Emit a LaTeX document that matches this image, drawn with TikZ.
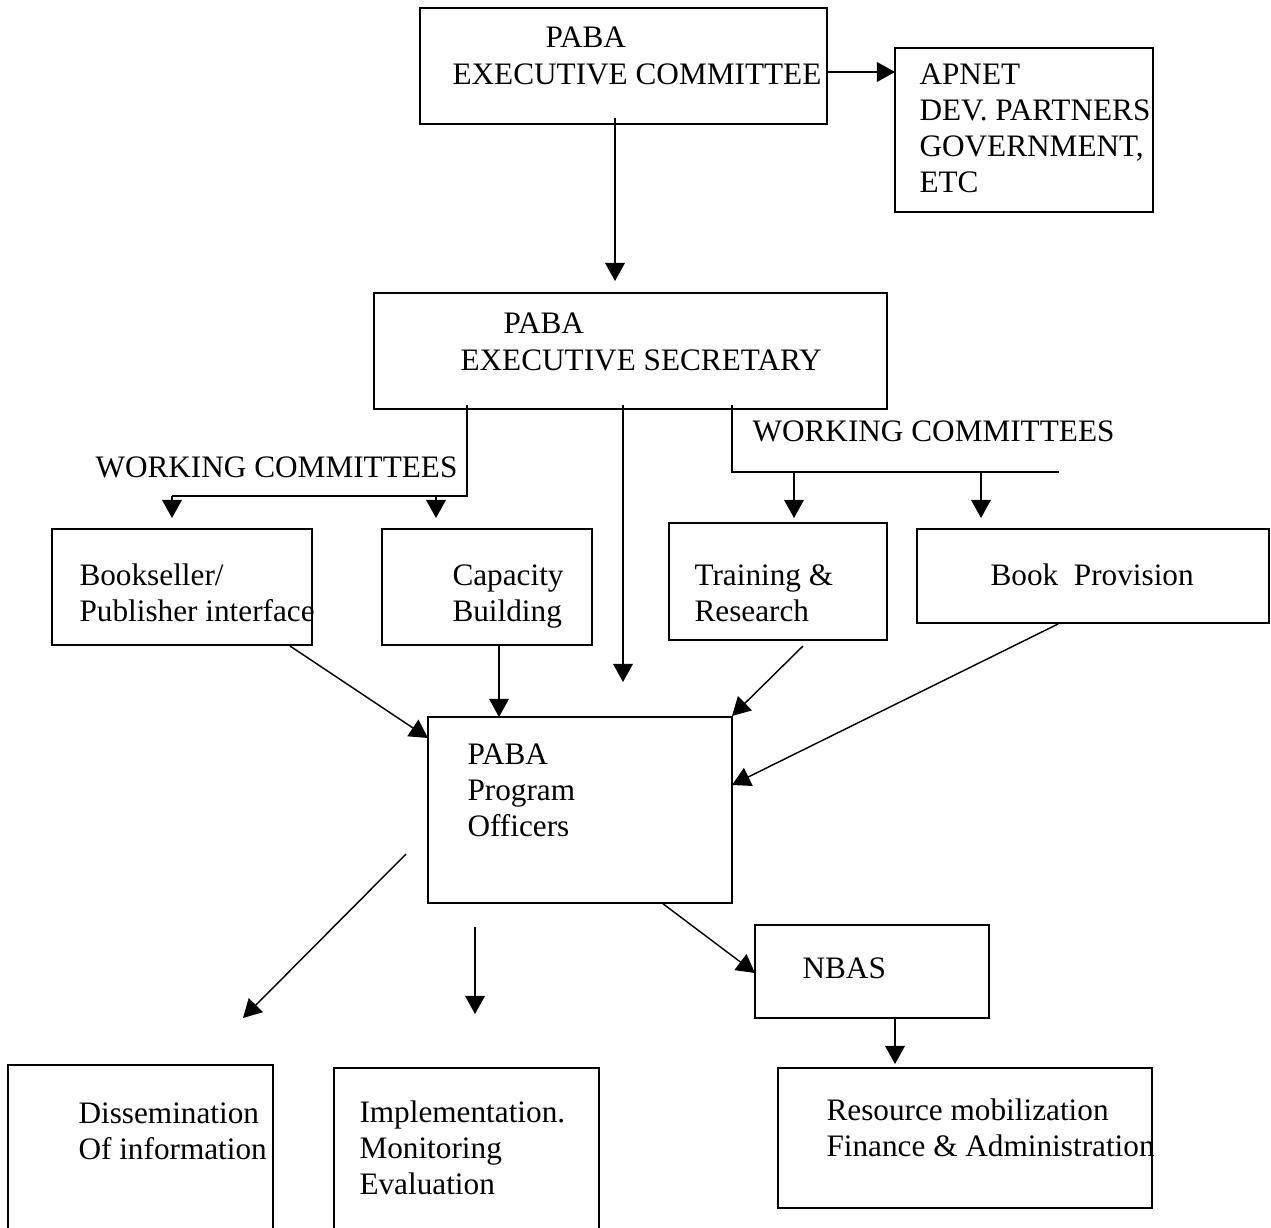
\documentclass[tikz,border=0pt]{standalone}
\usepackage{fontspec}
\setmainfont{Liberation Serif}
\usetikzlibrary{arrows.meta,fit}
\begin{document}
\begin{tikzpicture}[x=0.384pt,y=-0.384pt,
  box/.style={draw,line width=0.6pt,inner sep=0pt,rectangle},
  txt/.style={anchor=base west,inner sep=0pt,align=left,font=\fontsize{12}{13.8}\selectfont},
  arr/.style={line width=0.55pt,-{Triangle[length=7pt,width=7.6pt]}},
  ln/.style={line width=0.55pt}]
\useasboundingbox (0,0) rectangle (1271,1227);
\fill[white] (0,0) rectangle (1271,1227);
\clip (0,0) rectangle (1271,1227);
% boxes
\node[box,fit={(420,8) (827,124)}] (exc) {};
\node[box,fit={(895,48) (1153,212)}] (apn) {};
\node[box,fit={(374,293) (887,409)}] (sec) {};
\node[box,fit={(52,529) (312,645)}] (bks) {};
\node[box,fit={(382,529) (592,645)}] (cap) {};
\node[box,fit={(669,523) (887,640)}] (trn) {};
\node[box,fit={(917,529) (1269,623)}] (bkp) {};
\node[box,fit={(428,717) (732,903)}] (pro) {};
\node[box,fit={(755,925) (989,1018)}] (nba) {};
\node[box,fit={(778,1068) (1152,1208)}] (res) {};
\node[box,fit={(8,1065) (273,1260)}] (dis) {};
\node[box,fit={(334,1068) (599,1260)}] (imp) {};
% texts (anchor = baseline of the last line)
\node[txt] (t1a) at (545,48) {PABA};
\node[txt] (t1b) at (452,85) {EXECUTIVE COMMITTEE};
\node[txt] (t2) at (919,192) {APNET\\DEV. PARTNERS\\GOVERNMENT,\\ETC};
\node[txt] (t3a) at (503,333) {PABA};
\node[txt] (t3b) at (460,370) {EXECUTIVE SECRETARY};
\node[txt] (wcl) at (95,477) {WORKING COMMITTEES};
\node[txt] (wcr) at (752,441) {WORKING COMMITTEES};
\node[txt] (t4) at (79,621) {Bookseller/\\Publisher interface};
\node[txt] (t5) at (452,621) {Capacity\\Building};
\node[txt] (t6) at (694,621) {Training \&\\Research};
\node[txt] (t7) at (990,585) {Book\ \ Provision};
\node[txt] (t8) at (467,836) {PABA\\Program\\Officers};
\node[txt] (t9) at (802,978) {NBAS};
\node[txt] (t10) at (826,1156) {Resource mobilization\\Finance \& Administration};
\node[txt] (t11) at (78,1159) {Dissemination\\Of information};
\node[txt] (t12) at (359,1194) {Implementation.\\Monitoring\\Evaluation};
% coordinates
\coordinate (a1) at (615,118); \coordinate (a2) at (615,281);
\coordinate (b1) at (827,72); \coordinate (b2) at (895,72);
\coordinate (l1) at (467,405); \coordinate (l2) at (467,496); \coordinate (l3) at (172,496);
\coordinate (l4) at (172,518); \coordinate (l5) at (436,496); \coordinate (l6) at (436,518);
\coordinate (m1) at (623,405); \coordinate (m2) at (623,682);
\coordinate (r1) at (732,405); \coordinate (r2) at (732,472); \coordinate (r3) at (1059,472);
\coordinate (r4) at (794,472); \coordinate (r5) at (794,518);
\coordinate (r6) at (981,472); \coordinate (r7) at (981,518);
\coordinate (c1) at (290,646); \coordinate (c2) at (428,738);
\coordinate (d1) at (499,646); \coordinate (d2) at (499,717);
\coordinate (e1) at (803,646); \coordinate (e2) at (732,716);
\coordinate (f1) at (1058,624); \coordinate (f2) at (732,785);
\coordinate (g1) at (406,854); \coordinate (g2) at (243,1018);
\coordinate (h1) at (475,927); \coordinate (h2) at (475,1014);
\coordinate (i1) at (662,903); \coordinate (i2) at (755,973);
\coordinate (j1) at (895,1018); \coordinate (j2) at (895,1064);
% connectors
\draw[arr] (a1) -- (a2);
\draw[arr] (b1) -- (b2);
\draw[ln] (l1) -- (l2) -- (l3);
\draw[arr] (l3) -- (l4);
\draw[arr] (l5) -- (l6);
\draw[arr] (m1) -- (m2);
\draw[ln] (r1) -- (r2) -- (r3);
\draw[arr] (r4) -- (r5);
\draw[arr] (r6) -- (r7);
\draw[arr] (c1) -- (c2);
\draw[arr] (d1) -- (d2);
\draw[arr] (e1) -- (e2);
\draw[arr] (f1) -- (f2);
\draw[arr] (g1) -- (g2);
\draw[arr] (h1) -- (h2);
\draw[arr] (i1) -- (i2);
\draw[arr] (j1) -- (j2);
\end{tikzpicture}
\end{document}
